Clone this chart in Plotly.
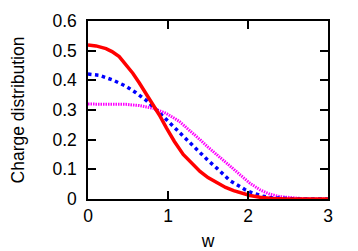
import plotly.graph_objects as go

w_red = [0, 0.1, 0.225, 0.3, 0.39, 0.47, 0.56, 0.64, 0.725, 0.775, 0.89, 0.98, 1.08, 1.19, 1.3, 1.4, 1.5, 1.61, 1.72, 1.82, 1.92, 2.025, 2.15, 2.3, 2.5, 3.0]
y_red = [0.519, 0.516, 0.507, 0.497, 0.48, 0.455, 0.424, 0.392, 0.357, 0.335, 0.284, 0.24, 0.194, 0.15, 0.118, 0.093, 0.072, 0.054, 0.039, 0.028, 0.019, 0.012, 0.006, 0.002, 0.0, 0.0]

w_blue = [0, 0.14, 0.31, 0.475, 0.6, 0.725, 0.85, 0.975, 1.1, 1.19, 1.3, 1.4, 1.5, 1.61, 1.7, 1.775, 1.9, 1.96, 2.05, 2.13, 2.19, 2.27, 2.4, 2.6, 3.0]
y_blue = [0.421, 0.417, 0.401, 0.38, 0.358, 0.333, 0.302, 0.269, 0.236, 0.211, 0.181, 0.155, 0.13, 0.104, 0.08, 0.062, 0.042, 0.032, 0.021, 0.014, 0.009, 0.005, 0.002, 0.0, 0.0]

w_mag = [0, 0.225, 0.475, 0.64, 0.81, 0.975, 1.07, 1.14, 1.19, 1.3, 1.4, 1.5, 1.61, 1.7, 1.775, 1.9, 2.025, 2.15, 2.275, 2.4, 2.525, 2.65, 2.8, 3.0]
y_mag = [0.32, 0.32, 0.319, 0.315, 0.306, 0.289, 0.275, 0.262, 0.25, 0.225, 0.2, 0.175, 0.149, 0.128, 0.11, 0.081, 0.053, 0.031, 0.016, 0.008, 0.004, 0.002, 0.0, 0.0]

x_ticks = [0, 1, 2, 3]
y_ticks = [0, 0.1, 0.2, 0.3, 0.4, 0.5, 0.6]

FONT = "Liberation Sans, Arial, sans-serif"

fig = go.Figure()
fig.add_trace(go.Scatter(x=w_mag, y=y_mag, mode="lines", line=dict(color="#ff00ff", width=3, dash="1.5px,1px"), showlegend=False))
fig.add_trace(go.Scatter(x=w_blue, y=y_blue, mode="lines", line=dict(color="#0000ff", width=3.5, dash="dot"), showlegend=False))
fig.add_trace(go.Scatter(x=w_red, y=y_red, mode="lines", line=dict(color="#ff0000", width=3.5), showlegend=False))

axis_common = dict(showgrid=False, zeroline=False, showline=True, linecolor="black", linewidth=1.5,
                   mirror="ticks", ticks="inside", ticklen=8, tickwidth=1.5, tickcolor="black",
                   automargin=False,
                   tickfont=dict(family=FONT, size=17.5, color="black"))

fig.update_xaxes(range=[0, 3], tickvals=x_ticks, ticktext=[str(v) for v in x_ticks],
                 ticklabelstandoff=0,
                 title=dict(text="w", font=dict(family=FONT, size=17.5, color="black"), standoff=10),
                 **axis_common)
fig.update_yaxes(range=[0, 0.6], tickvals=y_ticks, ticktext=[("%g" % v) for v in y_ticks],
                 ticklabelstandoff=6,
                 title=dict(text="Charge distribution", font=dict(family=FONT, size=17.5, color="black"), standoff=26),
                 **axis_common)

# page body has an 8px default margin; figure sized so the plot area lands where the reference has it
fig.update_layout(width=350, height=243, margin=dict(l=80, r=30, t=13, b=52),
                  plot_bgcolor="white", paper_bgcolor="white")

fig.write_html("out.html")
